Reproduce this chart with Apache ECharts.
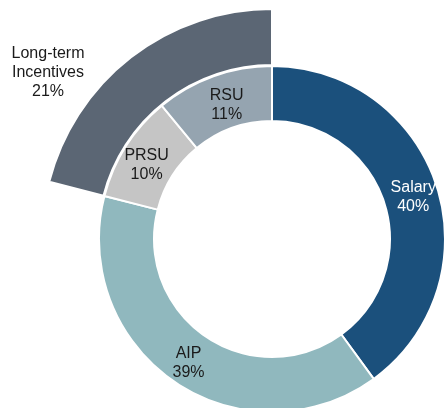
<!DOCTYPE html>
<html>
<head>
<meta charset="utf-8">
<script src="https://cdn.jsdelivr.net/npm/echarts@6/dist/echarts.min.js"></script>
<style>
  html, body { margin: 0; padding: 0; background: #fff; }
  #chart { width: 444px; height: 408px; }
</style>
</head>
<body>
<div id="chart"></div>
<script>
// pay mix, clockwise from 12 o'clock
const components = ['Salary', 'AIP', 'PRSU', 'RSU'];
const shares = [40, 39, 10, 11];
const compColors = ['#1b507c', '#90b8be', '#c5c5c5', '#95a4b0'];
const labelColors = ['#ffffff', '#1a1a1a', '#1a1a1a', '#1a1a1a'];

const groupName = 'Long-term\nIncentives';
const groupShare = 21;
const groupColor = '#5b6674';

// small nudges so labels sit where the original put them
const labelNudge = [[0, 4], [0, 1], [0, 6], [5, 6]];

document.addEventListener('DOMContentLoaded', () => {
    const chart = echarts.init(document.getElementById('chart'));
    const font = { fontFamily: 'Liberation Sans, Arial, sans-serif', fontSize: 16, lineHeight: 19 };

    const innerData = components.map((name, i) => ({
        name: name,
        value: shares[i],
        itemStyle: { color: compColors[i] },
        label: { color: labelColors[i] }
    }));

    const rest = shares.reduce((a, b) => a + b, 0) - groupShare;
    const outerData = [
        { name: 'rest', value: rest, itemStyle: { color: 'rgba(0,0,0,0)', borderWidth: 0 }, label: { show: false } },
        { name: groupName, value: groupShare, itemStyle: { color: groupColor } }
    ];

    const option = {
        animation: false,
        series: [
            {
                type: 'pie',
                center: [272, 239],
                radius: [174, 230],
                startAngle: 90,
                clockwise: true,
                silent: true,
                itemStyle: { borderColor: '#fff', borderWidth: 2 },
                label: {
                    show: true,
                    position: 'outside',
                    ...font,
                    color: '#1a1a1a',
                    align: 'center',
                    formatter: (p) => `${p.name}\n${p.value}%`
                },
                labelLine: { show: false },
                labelLayout: { x: 48, y: 73, align: 'center', verticalAlign: 'middle' },
                data: outerData
            },
            {
                type: 'pie',
                center: [272, 239],
                radius: [118, 173],
                startAngle: 90,
                clockwise: true,
                silent: true,
                itemStyle: { borderColor: '#fff', borderWidth: 2 },
                label: {
                    show: true,
                    position: 'inside',
                    ...font,
                    align: 'center',
                    formatter: (p) => `${p.name}\n${p.value}%`
                },
                labelLine: { show: false },
                labelLayout: (params) => ({
                    dx: labelNudge[params.dataIndex][0],
                    dy: labelNudge[params.dataIndex][1]
                }),
                data: innerData
            }
        ]
    };

    chart.setOption(option);
});
</script>
</body>
</html>
